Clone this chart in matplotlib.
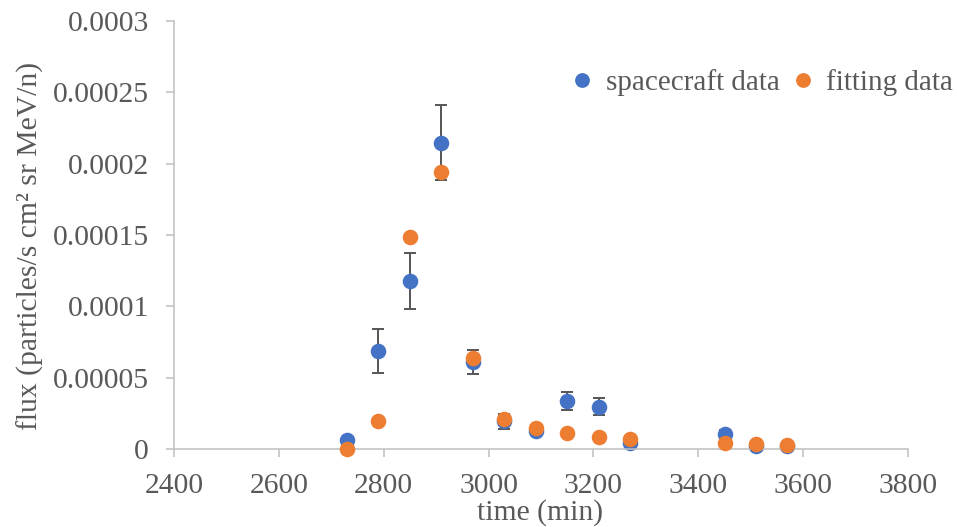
import matplotlib
matplotlib.use("Agg")
import matplotlib.pyplot as plt

plt.rcParams['font.family'] = ['Liberation Serif', 'DejaVu Serif']

# data
time_min = [2730, 2790, 2850, 2910, 2970, 3030, 3090, 3150, 3210, 3270, 3450, 3510, 3570]
spacecraft = [6.5e-6, 6.85e-5, 1.175e-4, 2.147e-4, 6.1e-5, 1.94e-5, 1.25e-5, 3.36e-5, 2.97e-5,
              4.0e-6, 1.05e-5, 2.4e-6, 2.3e-6]
spacecraft_err = [2.0e-6, 1.55e-5, 1.97e-5, 2.63e-5, 8.4e-6, 5.4e-6, 3.0e-6, 6.5e-6, 5.8e-6,
                  1.5e-6, 2.5e-6, 1.0e-6, 1.0e-6]
fitting = [0.3e-6, 1.98e-5, 1.486e-4, 1.94e-4, 6.36e-5, 2.12e-5, 1.45e-5, 1.1e-5, 8.4e-6,
           6.8e-6, 4.4e-6, 3.3e-6, 2.8e-6]
x_ticks = [2400, 2600, 2800, 3000, 3200, 3400, 3600, 3800]
y_ticks = [0, 0.00005, 0.0001, 0.00015, 0.0002, 0.00025, 0.0003]
y_tick_labels = ['0', '0.00005', '0.0001', '0.00015', '0.0002', '0.00025', '0.0003']

BLUE = '#4472C4'
ORANGE = '#ED7D31'
TXT = '#595959'
AX = '#BFBFBF'
FS = 21.3

fig = plt.figure(figsize=(9.57, 5.27), dpi=100)
ax = fig.add_axes([174/957, 1-449/527, (908-174)/957, (449-21)/527])

ax.errorbar(time_min, spacecraft, yerr=spacecraft_err, fmt='none', ecolor='#555555',
            elinewidth=1.4, capsize=4.5, capthick=1.4, zorder=1)
ax.plot(time_min, spacecraft, 'o', color=BLUE, markersize=11.2, markeredgewidth=0,
        label='spacecraft data', zorder=2, clip_on=False)
ax.plot(time_min, fitting, 'o', color=ORANGE, markersize=11.2, markeredgewidth=0,
        label='fitting data', zorder=3, clip_on=False)

ax.set_xlim(2400, 3800)
ax.set_ylim(0, 0.0003)
ax.set_xticks(x_ticks)
ax.set_xticklabels([str(v) for v in x_ticks])
ax.set_yticks(y_ticks)
ax.set_yticklabels(y_tick_labels)

for s in ['top', 'right']:
    ax.spines[s].set_visible(False)
for s in ['left', 'bottom']:
    ax.spines[s].set_color(AX)
    ax.spines[s].set_linewidth(1.1)

ax.tick_params(axis='both', colors=AX, labelcolor=TXT, labelsize=FS, length=6, width=1.1)
ax.tick_params(axis='y', pad=12)
ax.tick_params(axis='x', pad=11)

fig.text(30/957, 1-246/527, 'flux (particles/s cm² sr MeV/n)', rotation=90,
         ha='center', va='center', fontsize=FS, color=TXT)
fig.text(540/957, 1-513/527, 'time (min)', ha='center', va='center', fontsize=FS, color=TXT)

leg = ax.legend(loc='center right', bbox_to_anchor=(953/957, 1-83/527), bbox_transform=fig.transFigure,
                ncol=2, frameon=False, fontsize=21, handlelength=0.6, handletextpad=0.5,
                columnspacing=0.5, markerscale=0.95, borderaxespad=0, borderpad=0)
for t in leg.get_texts():
    t.set_color(TXT)

fig.savefig('out.png', dpi=100)
